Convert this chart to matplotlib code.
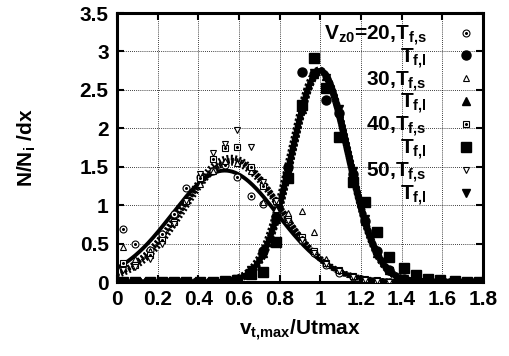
import numpy as np
import matplotlib
matplotlib.use('Agg')
import matplotlib.pyplot as plt

plt.rcParams['font.family'] = 'Liberation Sans'
plt.rcParams['font.weight'] = 'bold'
plt.rcParams['mathtext.fontset'] = 'custom'
plt.rcParams['mathtext.rm'] = 'Liberation Sans:bold'
plt.rcParams['mathtext.bf'] = 'Liberation Sans:bold'
plt.rcParams['mathtext.default'] = 'bf'

# bin centres (v_t,max / Utmax)
x = [0.03, 0.09, 0.16, 0.22, 0.28, 0.34, 0.41, 0.47, 0.53, 0.59, 0.66, 0.72, 0.78, 0.84, 0.91,
     0.97, 1.03, 1.09, 1.16, 1.22, 1.28, 1.34, 1.41, 1.47, 1.53, 1.59, 1.66, 1.72, 1.78]

# Tf,s (hollow) and Tf,l (filled) histograms for each Vz0
v20_s = [0.69, 0.50, 0.42, 0.62, 0.88, 1.22, 1.36, 1.45, 1.52, 1.37, 1.12, 1.02, 0.90, 0.80, 0.55,
         0.38, 0.22, 0.12, 0.06, 0.03, 0.01, 0, 0, 0, 0, 0, 0, 0, 0]
v20_l = [0, 0, 0, 0, 0, 0, 0, 0, 0, 0.03, 0.12, 0.40, 0.85, 1.50, 2.73,
         2.70, 2.37, 2.20, 1.40, 0.80, 0.40, 0.15, 0.04, 0.01, 0, 0, 0, 0, 0]
v30_s = [0.45, 0.30, 0.40, 0.55, 0.80, 1.05, 1.28, 1.45, 1.58, 1.55, 1.45, 1.04, 0.95, 0.90, 0.92,
         0.65, 0.30, 0.16, 0.08, 0.04, 0.02, 0, 0, 0, 0, 0, 0, 0, 0]
v30_l = [0, 0, 0, 0, 0, 0, 0, 0, 0, 0.03, 0.14, 0.38, 0.82, 1.45, 2.25,
         2.70, 2.68, 2.22, 1.42, 0.80, 0.38, 0.15, 0.04, 0.01, 0, 0, 0, 0, 0]
v40_s = [0.25, 0.22, 0.35, 0.55, 0.78, 1.05, 1.35, 1.60, 1.74, 1.76, 1.50, 1.25, 1.05, 0.82, 0.58,
         0.40, 0.25, 0.15, 0.08, 0.04, 0.02, 0, 0, 0, 0, 0, 0, 0, 0]
v40_l = [0, 0, 0, 0, 0, 0, 0, 0, 0.01, 0.03, 0.10, 0.13, 0.52, 1.35, 2.30,
         2.91, 2.52, 1.89, 1.30, 1.04, 0.65, 0.33, 0.18, 0.09, 0.04, 0.02, 0.01, 0, 0]
v50_s = [0.15, 0.20, 0.30, 0.50, 0.75, 1.05, 1.40, 1.68, 1.80, 1.98, 1.76, 1.30, 1.05, 0.80, 0.55,
         0.38, 0.24, 0.14, 0.07, 0.03, 0.01, 0, 0, 0, 0, 0, 0, 0, 0]
v50_l = [0, 0, 0, 0, 0, 0, 0, 0, 0, 0.04, 0.16, 0.36, 0.80, 1.42, 2.26,
         2.72, 2.66, 2.25, 1.45, 0.82, 0.37, 0.14, 0.04, 0.01, 0, 0, 0, 0, 0]

# gaussian fit parameters (amplitude, mean, sigma) for Vz0 = 20, 30, 40, 50
fit_s_amp = [1.45, 1.55, 1.62, 1.58]
fit_s_mu = [0.53, 0.56, 0.56, 0.57]
fit_s_sig = [0.26, 0.245, 0.24, 0.235]
fit_l_amp = [2.75, 2.74, 2.76, 2.73]
fit_l_mu = [1.0, 1.0, 0.995, 1.0]
fit_l_sig = [0.14, 0.14, 0.142, 0.138]

labels = ['V$_{z0}$=20,T$_{f{,}s}$', 'T$_{f{,}l}$', '30,T$_{f{,}s}$', 'T$_{f{,}l}$',
          '40,T$_{f{,}s}$', 'T$_{f{,}l}$', '50,T$_{f{,}s}$', 'T$_{f{,}l}$']

fig = plt.figure(figsize=(5.1, 3.56), dpi=100)
ax = fig.add_axes([117 / 510, 1 - 282 / 356, 366 / 510, 269 / 356])

xf = np.linspace(0, 1.8, 400)
for i in range(4):
    ys = fit_s_amp[i] * np.exp(-(xf - fit_s_mu[i]) ** 2 / (2 * fit_s_sig[i] ** 2))
    yl = fit_l_amp[i] * np.exp(-(xf - fit_l_mu[i]) ** 2 / (2 * fit_l_sig[i] ** 2))
    if i == 0:
        ax.plot(xf, ys, color='k', lw=2.8, zorder=3)
        ax.plot(xf, yl, color='k', lw=4, zorder=3)
    else:
        ax.plot(xf, ys, color='k', lw=4, ls=(0, (0.35, 0.4)), zorder=3)
        ax.plot(xf, yl, color='k', lw=5, ls=(0, (0.35, 0.3)), zorder=3)

hollow = dict(color='k', ls='none', mfc='white', mec='k', mew=0.8, zorder=4)
filled = dict(color='k', ls='none', zorder=5)
dot = dict(color='k', ls='none', marker='o', markersize=1.2, zorder=4)

h1 = ax.plot(x, v20_s, marker='o', markersize=5, **hollow)[0]
h1d = ax.plot(x, v20_s, **dot)[0]
h2 = ax.plot(x, v20_l, marker='o', markersize=6.5, **filled)[0]
h3 = ax.plot(x, v30_s, marker='^', markersize=5, **hollow)[0]
h4 = ax.plot(x, v30_l, marker='^', markersize=6, **filled)[0]
h5 = ax.plot(x, v40_s, marker='s', markersize=5, **hollow)[0]
h5d = ax.plot(x, v40_s, **dot)[0]
h6 = ax.plot(x, v40_l, marker='s', markersize=6.5, **filled)[0]
h7 = ax.plot(x, v50_s, marker='v', markersize=5, **hollow)[0]
h8 = ax.plot(x, v50_l, marker='v', markersize=6, **filled)[0]

ax.set_xlim(0, 1.8)
ax.set_ylim(0, 3.5)
ax.set_xticks([0, 0.2, 0.4, 0.6, 0.8, 1, 1.2, 1.4, 1.6, 1.8])
ax.set_xticklabels(['0', '0.2', '0.4', '0.6', '0.8', '1', '1.2', '1.4', '1.6', '1.8'])
ax.set_yticks([0, 0.5, 1, 1.5, 2, 2.5, 3, 3.5])
ax.set_yticklabels(['0', '0.5', '1', '1.5', '2', '2.5', '3', '3.5'])
ax.tick_params(direction='in', length=5, width=1.5, top=True, right=True,
               labelsize=15, pad=6)
ax.grid(True, color='k', ls=(0, (1, 1.5)), lw=0.6)
for s in ax.spines.values():
    s.set_linewidth(2.2)

ax.set_xlabel('v$_{t{,}max}$/Utmax', fontsize=15, fontweight='bold', labelpad=6)
ax.set_ylabel('N/N$_i$ /dx', fontsize=15, fontweight='bold', labelpad=30)

handles = [(h1, h1d), h2, h3, h4, (h5, h5d), h6, h7, h8]
leg = ax.legend(handles, labels, loc='upper right', markerfirst=False, frameon=False,
                fontsize=15, handlelength=0.6, handletextpad=1.6, labelspacing=-0.06,
                borderaxespad=0.3, borderpad=0.2)

fig.savefig('out.png', dpi=100)
